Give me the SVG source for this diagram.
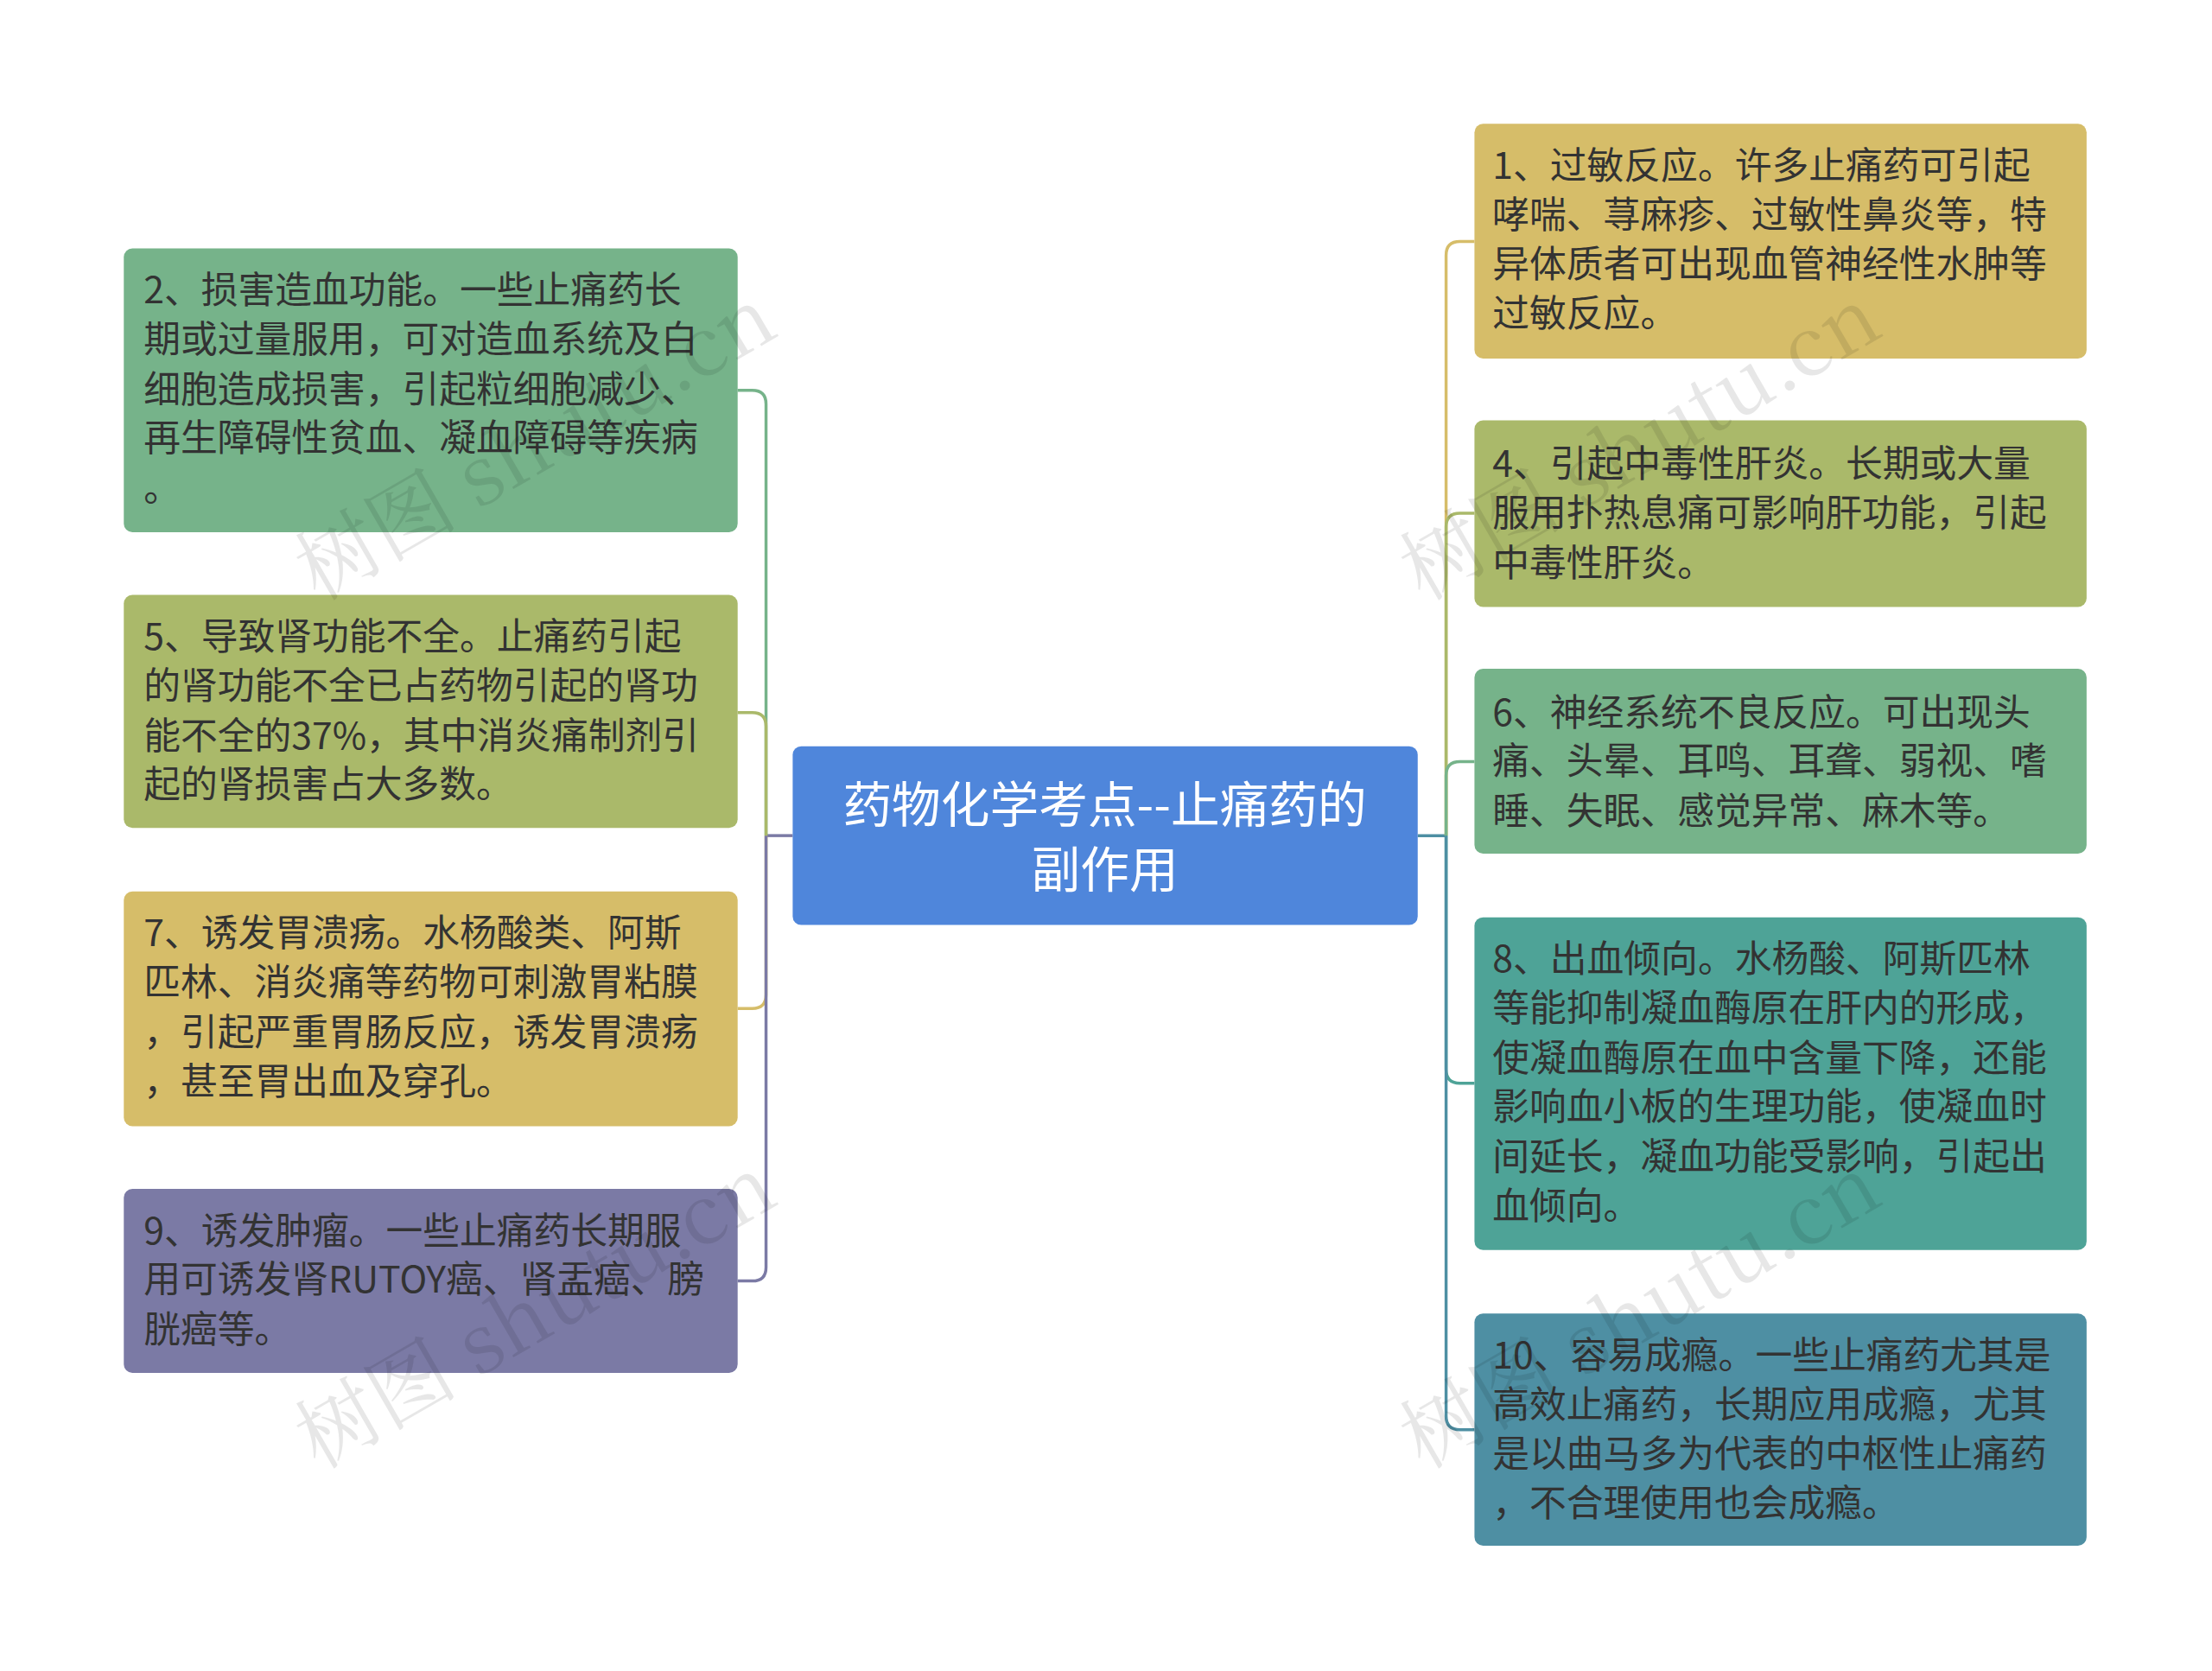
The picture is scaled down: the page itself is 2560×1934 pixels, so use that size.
<svg xmlns="http://www.w3.org/2000/svg" width="2560" height="1934" viewBox="0 0 2560 1934">
<style>
.t{font-family:"Noto Sans CJK SC","Noto Sans",sans-serif;font-size:43px;fill:#333}
.c{font-family:"Noto Sans CJK SC","Noto Sans",sans-serif;font-size:57px;fill:#fff;text-anchor:middle}
.w{font-family:"Noto Serif CJK SC","Liberation Serif",serif;font-size:95px;fill:#000;opacity:0.09}
path{fill:none;stroke-width:3.5}
</style>
<rect width="2560" height="1934" fill="#fff"/>
<g transform="scale(0.995)">
<g id="connectors">
<path stroke="#4E8FA3" d="M1649,972 H1682"/>
<path stroke="#7B7AA5" d="M922,972 H891"/>
<path stroke="#76B38A" d="M891,972 V470 Q891,454 875,454 H858"/>
<path stroke="#AAB96A" d="M891,972 V845 Q891,829 875,829 H858"/>
<path stroke="#D6BD69" d="M891,972 V1157 Q891,1173 875,1173 H858"/>
<path stroke="#7B7AA5" d="M891,972 V1474 Q891,1490 875,1490 H858"/>
<path stroke="#D6BD69" d="M1682,972 V297 Q1682,281 1698,281 H1715"/>
<path stroke="#AAB96A" d="M1682,972 V613 Q1682,597 1698,597 H1715"/>
<path stroke="#76B38A" d="M1682,972 V902 Q1682,886 1698,886 H1715"/>
<path stroke="#4EA397" d="M1682,972 V1244 Q1682,1260 1698,1260 H1715"/>
<path stroke="#4E8FA3" d="M1682,972 V1647 Q1682,1663 1698,1663 H1715"/>
</g>
<g id="center"><rect x="922" y="868" width="727" height="208" rx="10" fill="#4F86DB"/>
<text class="c" x="1285" y="957">药物化学考点--止痛药的</text><text class="c" x="1285" y="1032">副作用</text></g>
<g id="n2"><rect x="144" y="289" width="714" height="330" rx="10" fill="#76B38A"/>
<text class="t" x="167" y="353">2、损害造血功能。一些止痛药长</text><text class="t" x="167" y="410">期或过量服用，可对造血系统及白</text><text class="t" x="167" y="468">细胞造成损害，引起粒细胞减少、</text><text class="t" x="167" y="525">再生障碍性贫血、凝血障碍等疾病</text><text class="t" x="167" y="583">。</text></g>
<g id="n5"><rect x="144" y="692" width="714" height="271" rx="10" fill="#AAB96A"/>
<text class="t" x="167" y="756">5、导致肾功能不全。止痛药引起</text><text class="t" x="167" y="813">的肾功能不全已占药物引起的肾功</text><text class="t" x="167" y="871">能不全的37%，其中消炎痛制剂引</text><text class="t" x="167" y="928">起的肾损害占大多数。</text></g>
<g id="n7"><rect x="144" y="1037" width="714" height="273" rx="10" fill="#D6BD69"/>
<text class="t" x="167" y="1101">7、诱发胃溃疡。水杨酸类、阿斯</text><text class="t" x="167" y="1158">匹林、消炎痛等药物可刺激胃粘膜</text><text class="t" x="167" y="1216">，引起严重胃肠反应，诱发胃溃疡</text><text class="t" x="167" y="1273">，甚至胃出血及穿孔。</text></g>
<g id="n9"><rect x="144" y="1383" width="714" height="214" rx="10" fill="#7B7AA5"/>
<text class="t" x="167" y="1447">9、诱发肿瘤。一些止痛药长期服</text><text class="t" x="167" y="1504">用可诱发肾RUTOY癌、肾盂癌、膀</text><text class="t" x="167" y="1562">胱癌等。</text></g>
<g id="n1"><rect x="1715" y="144" width="712" height="273" rx="10" fill="#D6BD69"/>
<text class="t" x="1736" y="208">1、过敏反应。许多止痛药可引起</text><text class="t" x="1736" y="265">哮喘、荨麻疹、过敏性鼻炎等，特</text><text class="t" x="1736" y="323">异体质者可出现血管神经性水肿等</text><text class="t" x="1736" y="380">过敏反应。</text></g>
<g id="n4"><rect x="1715" y="489" width="712" height="217" rx="10" fill="#AAB96A"/>
<text class="t" x="1736" y="555">4、引起中毒性肝炎。长期或大量</text><text class="t" x="1736" y="612">服用扑热息痛可影响肝功能，引起</text><text class="t" x="1736" y="670">中毒性肝炎。</text></g>
<g id="n6"><rect x="1715" y="778" width="712" height="215" rx="10" fill="#76B38A"/>
<text class="t" x="1736" y="844">6、神经系统不良反应。可出现头</text><text class="t" x="1736" y="901">痛、头晕、耳鸣、耳聋、弱视、嗜</text><text class="t" x="1736" y="959">睡、失眠、感觉异常、麻木等。</text></g>
<g id="n8"><rect x="1715" y="1067" width="712" height="387" rx="10" fill="#4EA397"/>
<text class="t" x="1736" y="1131">8、出血倾向。水杨酸、阿斯匹林</text><text class="t" x="1736" y="1188">等能抑制凝血酶原在肝内的形成，</text><text class="t" x="1736" y="1246">使凝血酶原在血中含量下降，还能</text><text class="t" x="1736" y="1303">影响血小板的生理功能，使凝血时</text><text class="t" x="1736" y="1361">间延长，凝血功能受影响，引起出</text><text class="t" x="1736" y="1418">血倾向。</text></g>
<g id="n10"><rect x="1715" y="1528" width="712" height="270" rx="10" fill="#4E8FA3"/>
<text class="t" x="1736" y="1592">10、容易成瘾。一些止痛药尤其是</text><text class="t" x="1736" y="1649">高效止痛药，长期应用成瘾，尤其</text><text class="t" x="1736" y="1707">是以曲马多为代表的中枢性止痛药</text><text class="t" x="1736" y="1764">，不合理使用也会成瘾。</text></g>
<g id="watermarks">
<text class="w" transform="translate(370,700) rotate(-30)">树图 shutu.cn</text>
<text class="w" transform="translate(370,1710) rotate(-30)">树图 shutu.cn</text>
<text class="w" transform="translate(1655,700) rotate(-30)">树图 shutu.cn</text>
<text class="w" transform="translate(1655,1710) rotate(-30)">树图 shutu.cn</text>
</g>
</g>
</svg>
